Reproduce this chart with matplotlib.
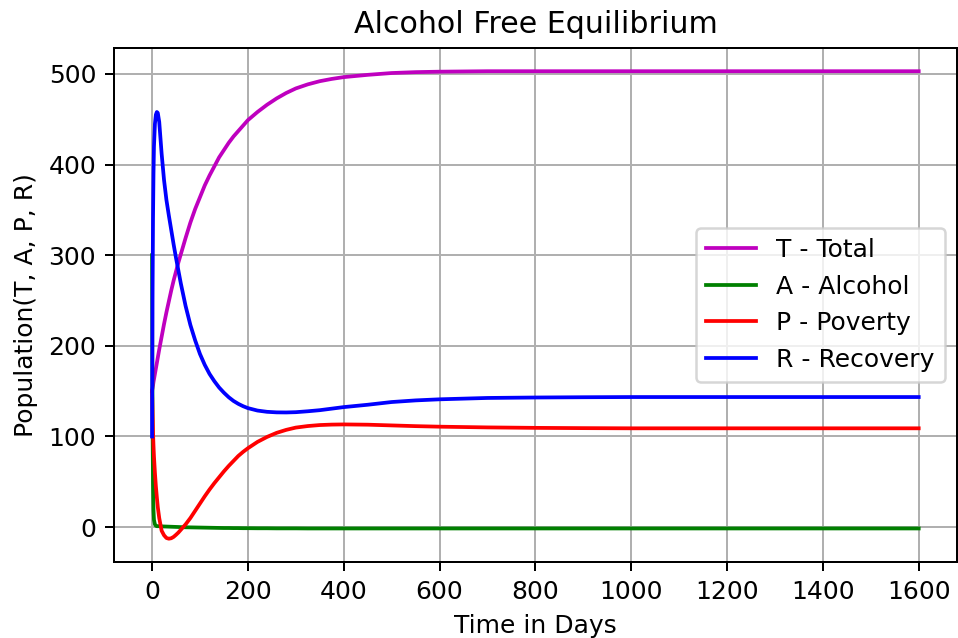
import numpy as np
import matplotlib
matplotlib.use("Agg")
import matplotlib.pyplot as plt

# time samples (days) and values
t = [0, 0.5, 1, 2, 3, 4, 6, 8, 10, 12, 15, 20, 25, 30, 35, 40, 45, 50, 55, 60,
     70, 80, 90, 100, 110, 120, 130, 140, 150, 160, 170, 180, 190, 200,
     220, 240, 260, 280, 300, 325, 350, 375, 400, 450, 500, 550, 600,
     700, 800, 900, 1000, 1200, 1400, 1600]

total = [150, 152, 153, 156, 160, 163, 169, 175, 181, 187, 196, 210, 224, 237, 249, 261, 272, 282, 292, 301,
         319, 336, 351, 364, 377, 388, 398, 408, 416, 424, 431, 437, 443, 449,
         458, 466, 473, 479, 484, 488.5, 492, 494.5, 496.5, 499, 501, 502, 502.5,
         503, 503, 503, 503, 503, 503, 503]

alcohol = [300, 190, 120, 48, 19, 8, 3, 1.5, 1, 1, 1, 0.8, 0.7, 0.6, 0.5, 0.4, 0.3, 0.2, 0.1, 0,
           -0.2, -0.3, -0.4, -0.5, -0.6, -0.7, -0.8, -0.9, -1.0, -1.0, -1.1, -1.1, -1.2, -1.2,
           -1.3, -1.3, -1.4, -1.4, -1.4, -1.5, -1.5, -1.5, -1.5, -1.5, -1.5, -1.5, -1.5,
           -1.5, -1.5, -1.5, -1.5, -1.5, -1.5, -1.5]

poverty = [150, 140, 128, 105, 90, 78, 60, 45, 33, 22, 10, -4, -9, -12, -12.8, -12.3, -10.8, -8.5, -6, -3,
           3, 10, 18, 26, 34, 41.5, 48.5, 55, 61.5, 67.5, 73, 78.5, 83, 87,
           94, 99.5, 104, 107.3, 109.8, 111.5, 112.6, 113.1, 113.3, 113, 112.2, 111.4, 110.8,
           110, 109.5, 109.2, 109, 109, 109, 109]

recovery = [100, 180, 250, 340, 390, 420, 445, 455, 458, 457, 447, 412, 383, 361, 344, 328, 312, 297, 283, 269,
            244, 223, 206, 191, 179, 169, 161, 154, 148.3, 143.3, 139.2, 136, 133.4, 131.3,
            128.6, 127.2, 126.6, 126.5, 126.8, 127.8, 129, 130.7, 132.4, 135, 138, 139.8, 141,
            142.5, 143, 143.3, 143.5, 143.5, 143.5, 143.5]

fig = plt.figure(figsize=(958 / 180, 638 / 180), dpi=180)
ax = fig.add_subplot(111)
fig.subplots_adjust(left=0.1187, right=0.999, top=0.925, bottom=0.119)

ax.plot(t, total, color='m', linewidth=1.5, label='T - Total')
ax.plot(t, alcohol, color='g', linewidth=1.5, label='A - Alcohol')
ax.plot(t, poverty, color='r', linewidth=1.5, label='P - Poverty')
ax.plot(t, recovery, color='b', linewidth=1.5, label='R - Recovery')

ax.set_title('Alcohol Free Equilibrium')
ax.set_xlabel('Time in Days')
ax.set_ylabel('Population(T, A, P, R)')
ax.set_xticks(np.arange(0, 1601, 200))
ax.set_yticks(np.arange(0, 501, 100))
ax.grid(True)
ax.legend(loc='center right')

fig.savefig('out.png', dpi=180)
